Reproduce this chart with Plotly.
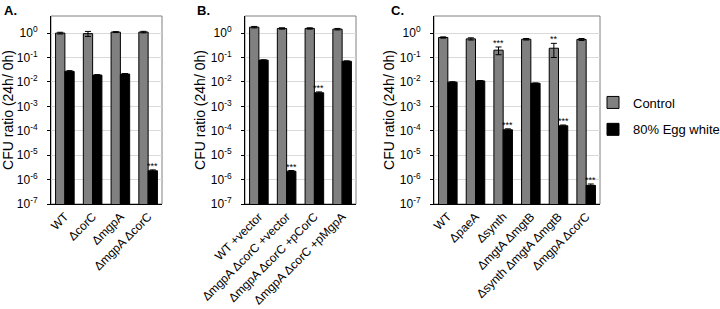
import numpy as np
import plotly.graph_objects as go

# ---- data ----
labels_a = ["WT", "ΔcorC", "ΔmgpA", "ΔmgpA ΔcorC"]
ctrl_a = [1.0, 0.95, 1.1, 1.1]
ctrl_a_err = [0.08, 0.22, 0.05, 0.08]
egg_a = [0.027, 0.019, 0.021, 2.3e-6]
egg_a_err = [0.002, 0.001, 0.001, 0.2e-6]
ctrl_a_sig = ["", "", "", ""]
egg_a_sig = ["", "", "", "***"]

labels_b = ["WT +vector", "ΔmgpA ΔcorC +vector", "ΔmgpA ΔcorC +pCorC", "ΔmgpA ΔcorC +pMgpA"]
ctrl_b = [1.75, 1.55, 1.55, 1.45]
ctrl_b_err = [0.12, 0.1, 0.1, 0.1]
egg_b = [0.078, 2.2e-6, 3.6e-3, 0.07]
egg_b_err = [0.003, 0.15e-6, 0.3e-3, 0.003]
ctrl_b_sig = ["", "", "", ""]
egg_b_sig = ["", "***", "***", ""]

labels_c = ["WT", "ΔpaeA", "Δsynth", "ΔmgtA ΔmgtB", "Δsynth ΔmgtA ΔmgtB", "ΔmgpA ΔcorC"]
ctrl_c = [0.66, 0.58, 0.2, 0.56, 0.24, 0.55]
ctrl_c_err = [0.04, 0.06, 0.07, 0.04, 0.14, 0.05]
egg_c = [0.0098, 0.011, 1.1e-4, 0.0088, 1.6e-4, 5.8e-7]
egg_c_err = [0.0004, 0.0004, 0.1e-4, 0.0003, 0.12e-4, 0.8e-7]
ctrl_c_sig = ["", "", "***", "", "**", ""]
egg_c_sig = ["", "", "***", "", "***", "***"]

tick_vals = [1e0, 1e-1, 1e-2, 1e-3, 1e-4, 1e-5, 1e-6, 1e-7]
tick_text = ["10<sup>0</sup>", "10<sup>-1</sup>", "10<sup>-2</sup>", "10<sup>-3</sup>",
             "10<sup>-4</sup>", "10<sup>-5</sup>", "10<sup>-6</sup>", "10<sup>-7</sup>"]
panel_letters = ["A.", "B.", "C."]
series_names = ["Control", "80% Egg white"]
y_title = "CFU ratio (24h/ 0h)"

FONT = "Liberation Sans, Arial, sans-serif"
GRAY = "#808080"

panels = [
    (labels_a, ctrl_a, ctrl_a_err, egg_a, egg_a_err, ctrl_a_sig, egg_a_sig),
    (labels_b, ctrl_b, ctrl_b_err, egg_b, egg_b_err, ctrl_b_sig, egg_b_sig),
    (labels_c, ctrl_c, ctrl_c_err, egg_c, egg_c_err, ctrl_c_sig, egg_c_sig),
]

W, H = 720, 309
x_doms = [(51, 162), (245, 356), (434, 600)]
letter_x = [2, 195, 389]
y_dom = [1 - 204 / H, 1 - 16 / H]

fig = go.Figure()
annotations = []
shapes = []
layout = {}

for i, (labels, ctrl, ctrl_err, egg, egg_err, csig, esig) in enumerate(panels):
    n = "" if i == 0 else str(i + 1)
    xa, ya = "x" + n, "y" + n
    fig.add_trace(go.Bar(
        x=labels, y=ctrl, name=series_names[0], xaxis=xa, yaxis=ya,
        marker=dict(color=GRAY, line=dict(color="black", width=1)),
        error_y=dict(type="data", array=ctrl_err, color="black", thickness=1, width=3),
        showlegend=(i == 0), legendgroup="c", offsetgroup="c",
    ))
    fig.add_trace(go.Bar(
        x=labels, y=egg, name=series_names[1], xaxis=xa, yaxis=ya,
        marker=dict(color="black", line=dict(color="black", width=1)),
        error_y=dict(type="data", array=egg_err, color="black", thickness=1, width=3),
        showlegend=(i == 0), legendgroup="e", offsetgroup="e",
    ))
    x0, x1 = x_doms[i]
    layout["xaxis" + n] = dict(
        domain=[x0 / W, x1 / W], anchor=ya, type="category", automargin=False,
        tickangle=-45, tickfont=dict(family=FONT, size=12, color="black"),
        showline=True, linecolor="black", linewidth=1, ticks="",
        showgrid=False, zeroline=False,
    )
    layout["yaxis" + n] = dict(
        domain=y_dom, anchor=xa, type="log", range=[-7, 0.7], automargin=False,
        tickvals=tick_vals, ticktext=tick_text,
        tickfont=dict(family=FONT, size=12, color="black"),
        ticks="outside", ticklen=3, tickcolor="black", ticklabelstandoff=7,
        showline=True, linecolor="black", linewidth=1,
        showgrid=True, gridcolor="#d9d9d9", gridwidth=1, zeroline=False,
        title=dict(text=y_title, font=dict(family=FONT, size=14, color="black"), standoff=1),
    )
    shapes.append(dict(type="rect", xref=xa + " domain", yref=ya + " domain",
                       x0=0, x1=1, y0=0, y1=1, line=dict(color=GRAY, width=1), layer="below"))
    annotations.append(dict(text="<b>" + panel_letters[i] + "</b>", xref="paper", yref="paper",
                            x=letter_x[i] / W, y=1 - 1 / H, xanchor="left", yanchor="top",
                            showarrow=False, font=dict(family=FONT, size=13, color="black")))
    for j, lab in enumerate(labels):
        for vals, errs, sig, shift in ((ctrl, ctrl_err, csig, -4.5), (egg, egg_err, esig, 4.5)):
            if sig[j]:
                annotations.append(dict(text=sig[j], x=lab, y=np.log10(vals[j] + errs[j]),
                                        xref=xa, yref=ya, xshift=shift, yshift=-3,
                                        xanchor="center", yanchor="bottom", showarrow=False,
                                        font=dict(family=FONT, size=9, color="black")))

fig.update_layout(
    **layout,
    width=W, height=H,
    margin=dict(l=0, r=0, t=0, b=0, autoexpand=False),
    paper_bgcolor="white", plot_bgcolor="white",
    barmode="group", bargap=0.33, bargroupgap=0,
    annotations=annotations, shapes=shapes,
    legend=dict(x=593 / W, y=1 - 116 / H, xanchor="left", yanchor="middle",
                font=dict(family=FONT, size=13, color="black"),
                tracegroupgap=7, bgcolor="rgba(0,0,0,0)"),
    font=dict(family=FONT, color="black"),
)

fig.write_html("out.html", config={"displayModeBar": False},
               post_script="document.body.style.margin='0px';")
